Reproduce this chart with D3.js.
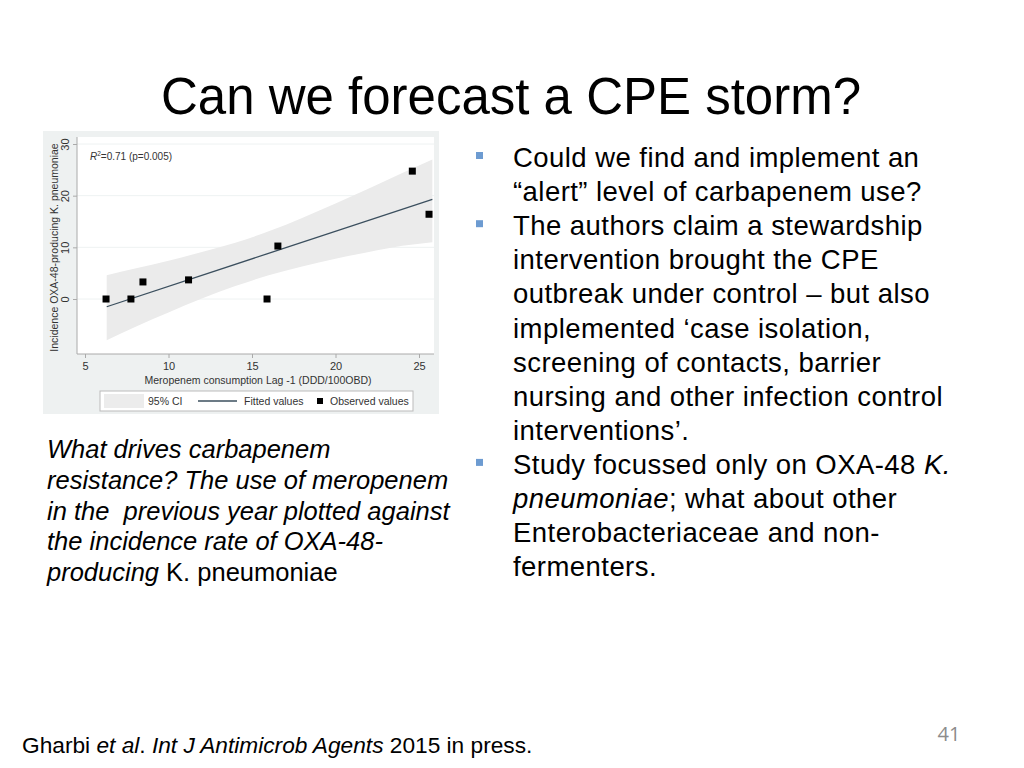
<!DOCTYPE html>
<html><head><meta charset="utf-8">
<script src="https://cdn.jsdelivr.net/npm/d3@7"></script>
<style>
html,body{margin:0;padding:0;background:#fff;}
svg{display:block;}
</style></head>
<body>
<svg id="s" width="1024" height="768"></svg>
<script>
// ---- data ----
const obsX = [6.26, 7.75, 8.47, 11.2, 15.9, 16.55, 24.6, 25.6];
const obsY = [0, 0, 3.3, 3.7, 0, 10.25, 24.75, 16.4];
const fitX = [6.3, 25.8];
const fitY = [-1.5, 19.3];
const ciX  = [6.3, 8, 10, 12, 14, 16, 18, 20, 22, 24, 25.8];
const ciLo = [-8.0, -5.4, -2.6, 0.1, 2.5, 4.6, 6.3, 7.8, 9.1, 10.3, 11.0];
const ciHi = [4.6, 5.9, 7.4, 9.1, 10.9, 13.1, 15.7, 18.5, 21.4, 24.4, 27.0];
const xTicks = [5, 10, 15, 20, 25];
const yTicks = [0, 10, 20, 30];
const legendLabels = ["95% CI", "Fitted values", "Observed values"];

const svg = d3.select("#s");
const F = "'Liberation Sans', Arial, Helvetica, sans-serif";

// ---- title ----
svg.append("text").attr("x", 511).attr("y", 114).attr("text-anchor", "middle")
  .attr("font-family", F).attr("font-size", 51).attr("fill", "#000")
  .text("Can we forecast a CPE storm?");

// ---- chart image ----
const g = svg.append("g");
g.append("rect").attr("x", 43).attr("y", 131).attr("width", 396).attr("height", 283).attr("fill", "#eef1f1");
const P = {l: 77, r: 434, t: 137, b: 354};
g.append("rect").attr("x", P.l).attr("y", P.t).attr("width", P.r - P.l).attr("height", P.b - P.t).attr("fill", "#fff");

const x = d3.scaleLinear().domain([5, 25]).range([85, 419]);
const y = d3.scaleLinear().domain([0, 30]).range([299, 144]);

// grid
g.selectAll(".grid").data(yTicks).enter().append("line")
  .attr("x1", P.l).attr("x2", P.r).attr("y1", d => y(d)).attr("y2", d => y(d))
  .attr("stroke", "#eef2f2").attr("stroke-width", 1);

// CI band
const band = ciX.map((d, i) => ({x: d, lo: ciLo[i], hi: ciHi[i]}));
g.append("path").datum(band)
  .attr("d", d3.area().x(d => x(d.x)).y0(d => y(d.lo)).y1(d => y(d.hi)).curve(d3.curveMonotoneX))
  .attr("fill", "#ebebeb");

// fitted line
g.append("path").datum(fitX.map((d, i) => [d, fitY[i]]))
  .attr("d", d3.line().x(d => x(d[0])).y(d => y(d[1])))
  .attr("stroke", "#3b4f5e").attr("stroke-width", 1.3).attr("fill", "none");

// observed points
g.selectAll(".pt").data(obsX.map((d, i) => [d, obsY[i]])).enter().append("rect")
  .attr("x", d => x(d[0]) - 3.5).attr("y", d => y(d[1]) - 3.5)
  .attr("width", 7).attr("height", 7).attr("fill", "#000");

// axes
const xa = g.append("g").attr("transform", `translate(0,${P.b})`)
  .call(d3.axisBottom(x).tickValues(xTicks).tickSize(4).tickPadding(4));
xa.select(".domain").attr("d", `M${P.l},0H${P.r}`).attr("stroke", "#aaa");
xa.selectAll(".tick line").attr("stroke", "#aaa");
xa.selectAll("text").attr("font-family", F).attr("font-size", 11).attr("fill", "#333");

const ya = g.append("g").attr("transform", `translate(${P.l},0)`)
  .call(d3.axisLeft(y).tickValues(yTicks).tickSize(4).tickPadding(4));
ya.select(".domain").attr("d", `M0,${P.t}V${P.b}`).attr("stroke", "#aaa");
ya.selectAll(".tick line").attr("stroke", "#aaa");
ya.selectAll(".tick text").attr("font-family", F).attr("font-size", 11).attr("fill", "#333")
  .attr("text-anchor", "middle").attr("x", null).attr("dy", null)
  .attr("transform", "translate(-8,0) rotate(-90)").attr("y", 0).attr("dy", "0");

// axis titles
g.append("text").attr("x", 258).attr("y", 384).attr("text-anchor", "middle")
  .attr("font-family", F).attr("font-size", 10.5).attr("fill", "#333")
  .text("Meropenem consumption Lag -1 (DDD/100OBD)");
g.append("text").attr("transform", `translate(58,${(P.t + P.b) / 2 + 2}) rotate(-90)`)
  .attr("text-anchor", "middle").attr("font-family", F).attr("font-size", 10.5).attr("fill", "#333")
  .text("Incidence OXA-48-producing K. pneumoniae");

// R2 annotation
const r2 = g.append("text").attr("x", 90).attr("y", 160).attr("font-family", F).attr("font-size", 10).attr("fill", "#333");
r2.append("tspan").attr("font-style", "italic").text("R");
r2.append("tspan").attr("font-size", 6.5).attr("dy", -4).text("2");
r2.append("tspan").attr("dy", 4).text("=0.71 (p=0.005)");

// legend
const L = g.append("g");
L.append("rect").attr("x", 100).attr("y", 391).attr("width", 313).attr("height", 20)
  .attr("fill", "#fff").attr("stroke", "#bbb").attr("stroke-width", 1);
L.append("rect").attr("x", 104).attr("y", 394).attr("width", 40).attr("height", 14).attr("fill", "#ececec");
L.append("text").attr("x", 148).attr("y", 405).attr("font-family", F).attr("font-size", 10.5).attr("fill", "#333").text(legendLabels[0]);
L.append("line").attr("x1", 198).attr("x2", 237).attr("y1", 401).attr("y2", 401).attr("stroke", "#3b4f5e").attr("stroke-width", 1.3);
L.append("text").attr("x", 244).attr("y", 405).attr("font-family", F).attr("font-size", 10.5).attr("fill", "#333").text(legendLabels[1]);
L.append("rect").attr("x", 317).attr("y", 398).attr("width", 6).attr("height", 6).attr("fill", "#000");
L.append("text").attr("x", 330).attr("y", 405).attr("font-family", F).attr("font-size", 10.5).attr("fill", "#333").text(legendLabels[2]);

// ---- bullets ----
const lines = [
  {b: true, t: [["Could we find and implement an", 0]]},
  {t: [["\u201calert\u201d level of carbapenem use?", 0]]},
  {b: true, t: [["The authors claim a stewardship", 0]]},
  {t: [["intervention brought the CPE", 0]]},
  {t: [["outbreak under control \u2013 but also", 0]]},
  {t: [["implemented \u2018case isolation,", 0]]},
  {t: [["screening of contacts, barrier", 0]]},
  {t: [["nursing and other infection control", 0]]},
  {t: [["interventions\u2019.", 0]]},
  {b: true, t: [["Study focussed only on OXA-48 ", 0], ["K.", 1]]},
  {t: [["pneumoniae", 1], ["; what about other", 0]]},
  {t: [["Enterobacteriaceae and non-", 0]]},
  {t: [["fermenters.", 0]]}
];
lines.forEach((ln, i) => {
  const yy = 167 + i * 34.1;
  if (ln.b) svg.append("rect").attr("x", 476).attr("y", yy - 15).attr("width", 7).attr("height", 7).attr("fill", "#6d9bd1");
  const t = svg.append("text").attr("x", 513).attr("y", yy).attr("font-family", F).attr("font-size", 27.5)
    .attr("letter-spacing", 0.45).attr("fill", "#000");
  ln.t.forEach(s => t.append("tspan").attr("font-style", s[1] ? "italic" : "normal").text(s[0]));
});

// ---- caption ----
const cap = [
  [["What drives carbapenem", 1]],
  [["resistance? The use of meropenem", 1]],
  [["in the  previous year plotted against", 1]],
  [["the incidence rate of OXA-48-", 1]],
  [["producing", 1], [" K. pneumoniae", 0]]
];
cap.forEach((ln, i) => {
  const t = svg.append("text").attr("x", 47).attr("y", 458 + i * 30.8).attr("font-family", F)
    .attr("font-size", 25.5).attr("fill", "#000").attr("xml:space", "preserve").style("white-space", "pre");
  ln.forEach(s => t.append("tspan").attr("font-style", s[1] ? "italic" : "normal").text(s[0]));
});

// ---- footer ----
const ft = svg.append("text").attr("x", 22).attr("y", 753).attr("font-family", F).attr("font-size", 22.7).attr("fill", "#000");
[["Gharbi ", 0], ["et al", 1], [". ", 0], ["Int J Antimicrob Agents", 1], [" 2015 in press.", 0]]
  .forEach(s => ft.append("tspan").attr("font-style", s[1] ? "italic" : "normal").text(s[0]));

svg.append("text").attr("x", 949).attr("y", 741).attr("text-anchor", "middle").attr("font-family", "'Open Sans', sans-serif")
  .attr("font-size", 20).attr("fill", "#8c8c8c").text("41");
</script>
</body></html>
